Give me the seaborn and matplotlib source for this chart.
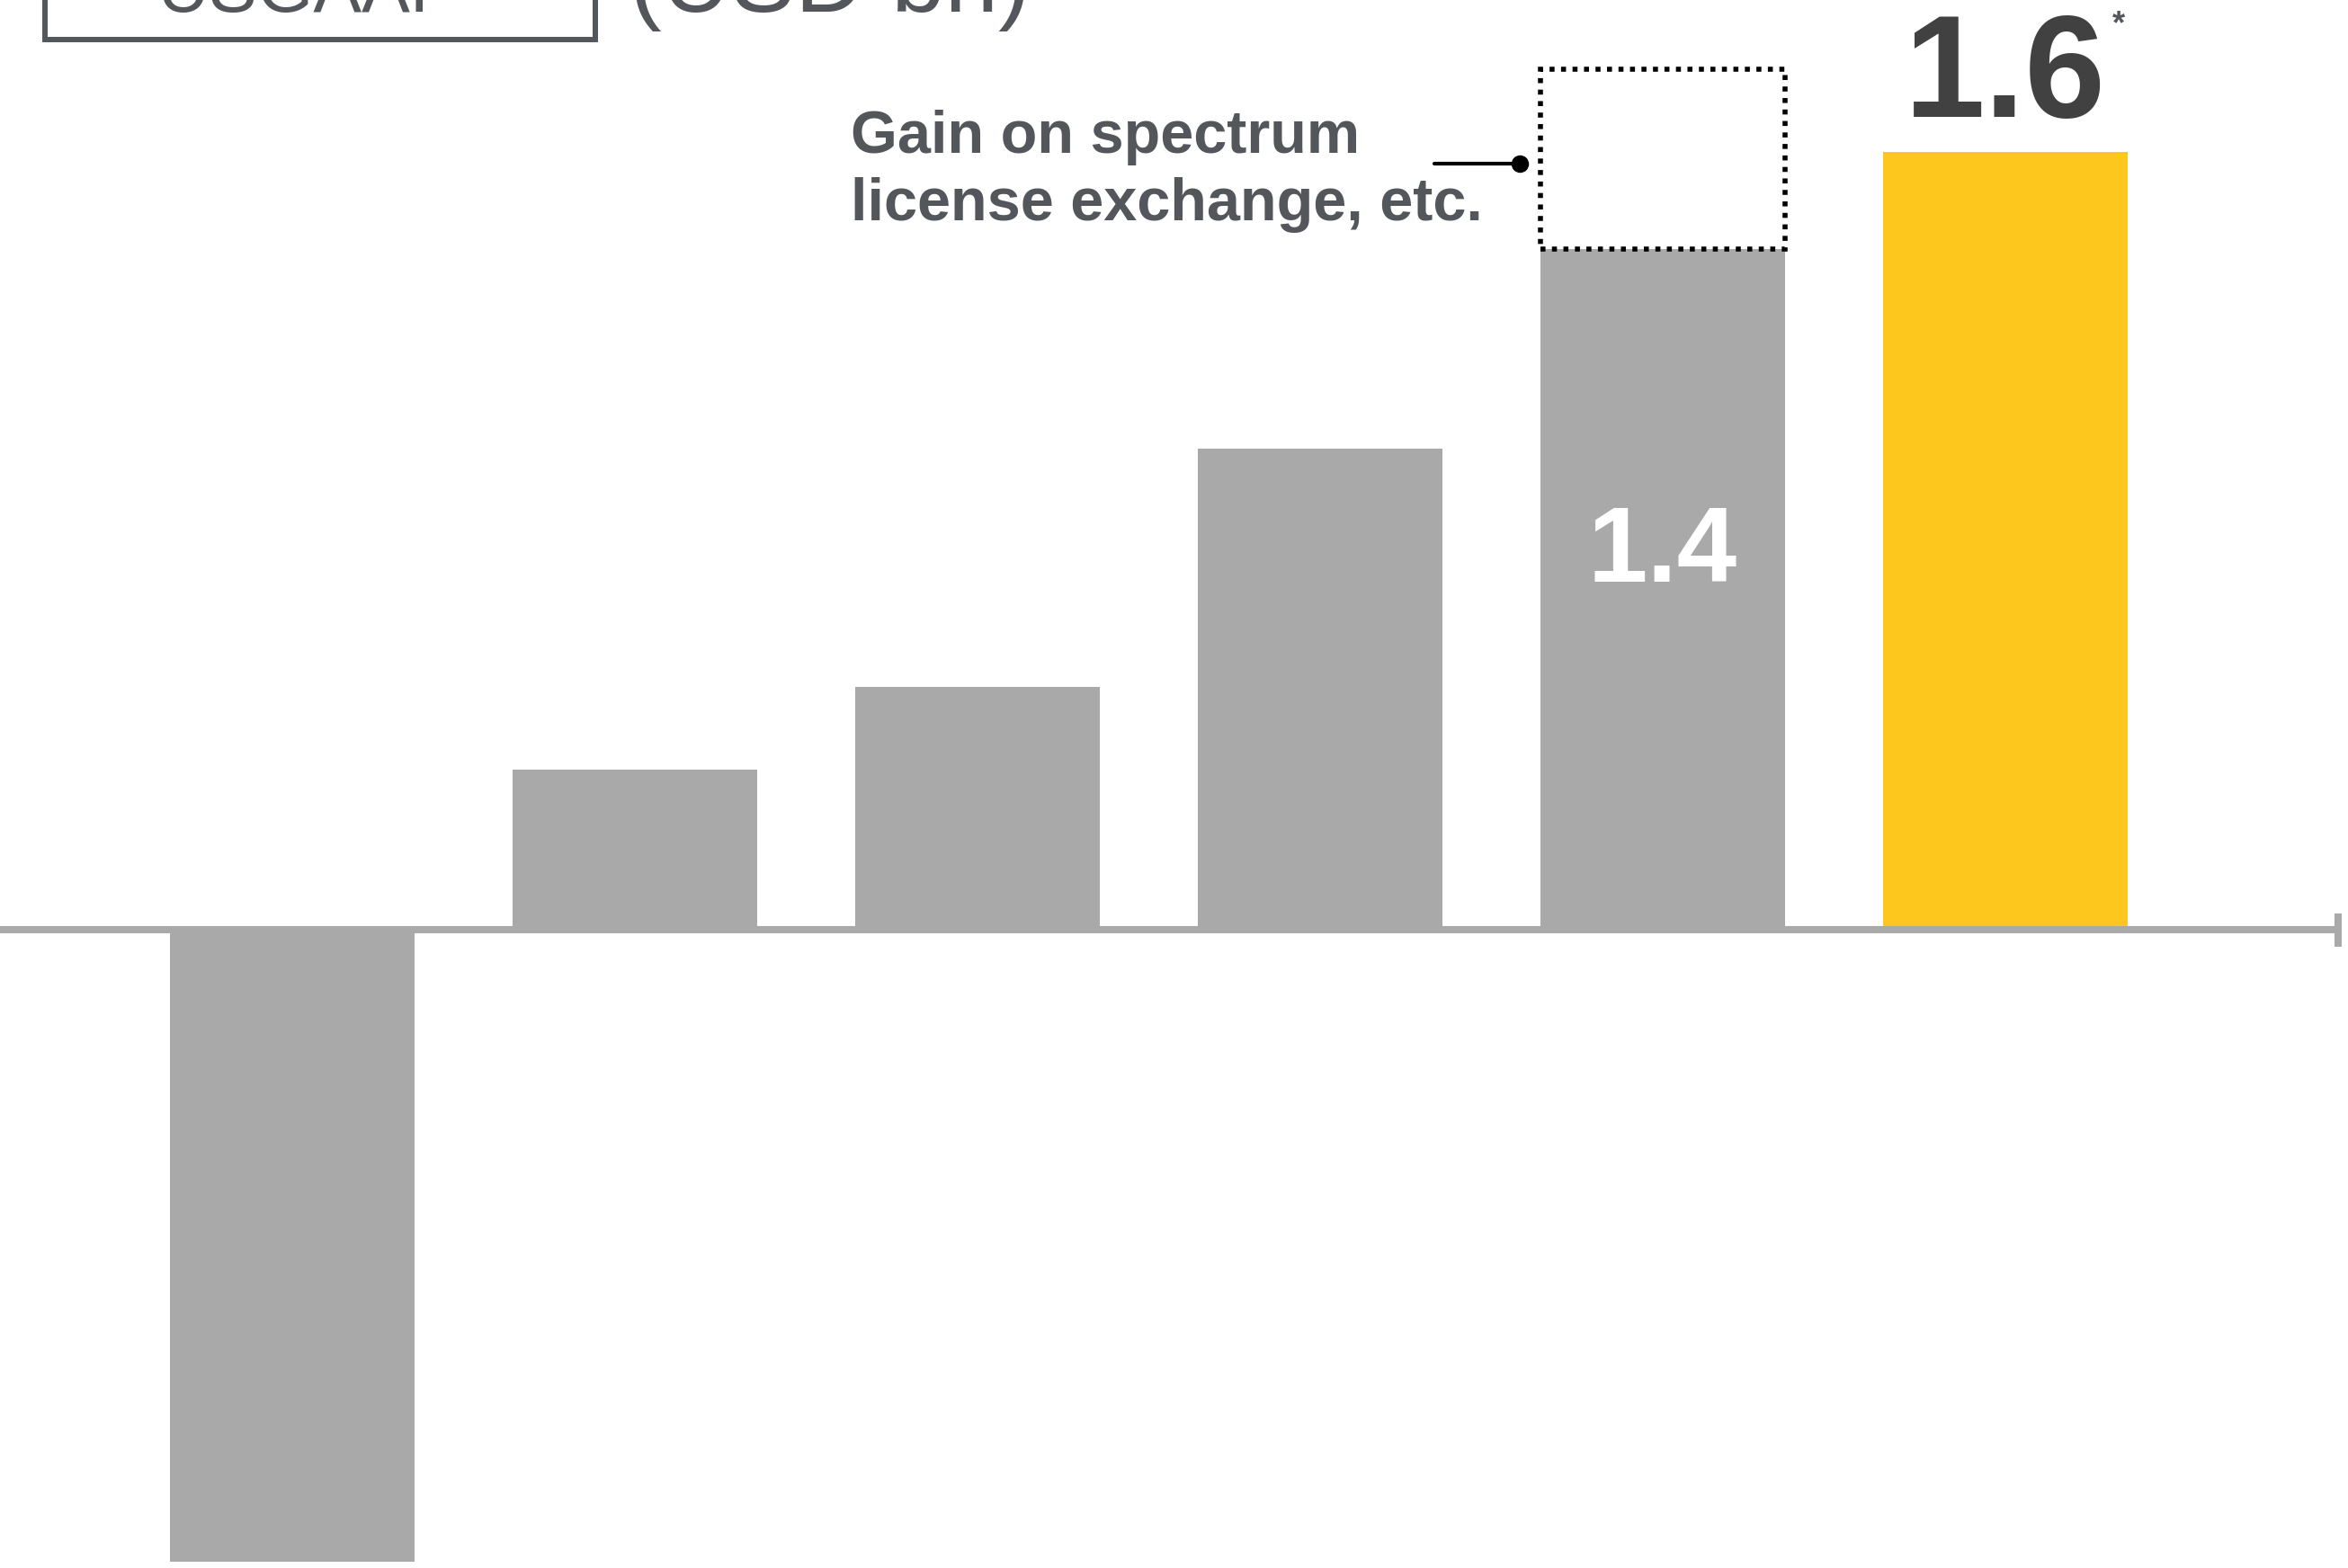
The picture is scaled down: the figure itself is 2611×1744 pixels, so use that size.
import matplotlib
matplotlib.use("Agg")
import matplotlib.pyplot as plt
import seaborn as sns

# ---- data (USD bn) ----
categories = ["P1", "P2", "P3", "P4", "P5", "P6"]
values = [-1.30, 0.33, 0.50, 0.99, 1.4, 1.6]
gain_on_exchange = 0.37          # one-off gain stacked on the fifth bar
value_labels = {4: "1.4", 5: "1.6"}
unit_label = "(USD bn)"
basis_label = "USGAAP"
note_lines = ["Gain on spectrum", "license exchange, etc."]

GRAY = "#A8A9A8"
YELLOW = "#FDC71E"
TEXT = "#53565A"
DARK = "#414141"
bar_colors = [GRAY, GRAY, GRAY, GRAY, GRAY, YELLOW]

sns.set_theme(style="white")
plt.rcParams["font.family"] = ["Liberation Sans", "DejaVu Sans"]

fig = plt.figure(figsize=(26.11, 17.44), dpi=100)
ax = fig.add_axes([0, 0, 1, 1])

BAR_W = 0.714
sns.barplot(x=categories, y=values, hue=categories, palette=bar_colors,
            legend=False, width=BAR_W, saturation=1, linewidth=0,
            edgecolor="none", ax=ax, zorder=3)

ax.set_xlim(-0.853, 6.0)
ax.set_ylim(-1.313, 1.913)

# dotted outline for the one-off gain
ax.bar(4, gain_on_exchange, bottom=values[4], width=BAR_W, fill=False,
       edgecolor="black", linewidth=4, linestyle=(0, (1, 1.3)), zorder=4)

# baseline with end tick, drawn over the bar feet
x0 = ax.get_xlim()[0]
ax.plot([x0, 5.97], [0, 0], color=GRAY, lw=5.8, solid_capstyle="butt", zorder=5)
ax.plot([5.97, 5.97], [-0.034, 0.034], color=GRAY, lw=5.8,
        solid_capstyle="butt", zorder=5)

# callout for the gain
box_left = 4 - BAR_W / 2
y_call = 1.576
ax.plot([box_left - 0.31, box_left - 0.06], [y_call, y_call], color="black",
        lw=3, zorder=5)
ax.plot([box_left - 0.06], [y_call], marker="o", color="black", ms=13, zorder=5)
ax.text(1.63, 1.598, note_lines[0], ha="left", va="baseline", fontsize=48,
        fontweight="bold", color=TEXT)
ax.text(1.63, 1.459, note_lines[1], ha="left", va="baseline", fontsize=48,
        fontweight="bold", color=TEXT)

# value labels
ax.text(4, 0.716, value_labels[4], ha="center", va="baseline", fontsize=86,
        fontweight="bold", color="white", zorder=6)
ax.text(5, 1.672, value_labels[5], ha="center", va="baseline", fontsize=116,
        fontweight="bold", color=DARK, zorder=6)
ax.text(5.33, 1.894, "*", ha="center", va="top", fontsize=26,
        fontweight="bold", color=TEXT)

# header: accounting basis box and unit
ax.plot([-0.722, -0.722, 0.885, 0.885], [2.0, 1.831, 1.831, 2.0],
        color=TEXT, lw=4.3, solid_joinstyle="miter", clip_on=True)
ax.text(-0.394, 1.889, basis_label, ha="left", va="baseline", fontsize=58,
        color=TEXT)
ax.text(0.984, 1.889, unit_label, ha="left", va="baseline", fontsize=77,
        color=TEXT)

ax.set_xticks([])
ax.set_yticks([])
ax.set_xlabel("")
ax.set_ylabel("")
for s in ax.spines.values():
    s.set_visible(False)

fig.savefig("out.png", dpi=100)
